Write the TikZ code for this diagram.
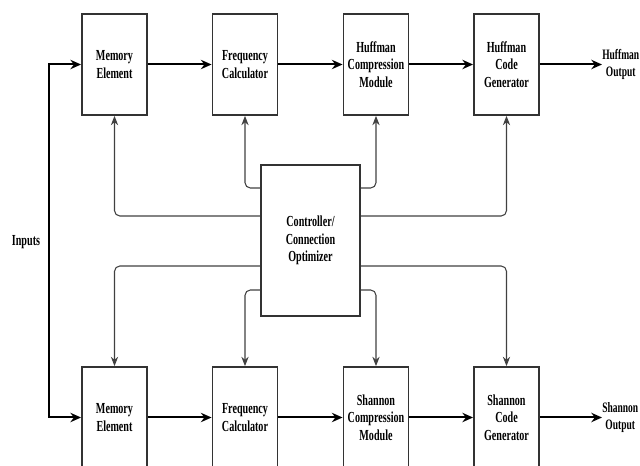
\documentclass[tikz,border=0pt]{standalone}
\usepackage{fontspec}
\setmainfont{Liberation Serif}[FakeStretch=0.66]
\usetikzlibrary{arrows.meta}
\begin{document}
\begin{tikzpicture}[x=0.75pt,y=-0.75pt,
  box/.style={draw=black!80,line width=1.4pt,minimum width=48.75pt,minimum height=75.75pt,inner sep=0pt,align=center,font=\bfseries\fontsize{11.5}{13}\selectfont},
  ctrlbox/.style={draw=black!80,line width=1.4pt,minimum width=74.25pt,minimum height=113.25pt,inner sep=0pt,align=center,font=\bfseries\fontsize{11.5}{13}\selectfont},
  lbl/.style={align=center,inner sep=0pt,font=\bfseries\fontsize{11.5}{13}\selectfont},
  outlbl/.style={align=center,inner sep=0pt,font=\bfseries\fontsize{10.8}{13}\selectfont},
  arr/.style={draw=black,line width=1.5pt,-{Stealth[length=8pt,width=7pt]}},
  ctl/.style={draw=black!75,line width=0.8pt,rounded corners=4pt,-{Stealth[length=7pt,width=5.5pt]}}]
\useasboundingbox (0,0) rectangle (640,466);
\clip (0,0) rectangle (640,466);
% top row
\node[box] (m1) at (114.5,64.5) {Memory\\Element};
\node[box] (f1) at (245,64.5) {Frequency\\Calculator};
\node[box] (c1) at (376,64.5) {Huffman\\Compression\\Module};
\node[box] (g1) at (506.5,64.5) {Huffman\\Code\\Generator};
\node[outlbl,anchor=west] (o1) at (602,64.5) {Huffman\\Output};
% bottom row
\node[box] (m2) at (114.5,417.5) {Memory\\Element};
\node[box] (f2) at (245,417.5) {Frequency\\Calculator};
\node[box] (c2) at (376,417.5) {Shannon\\Compression\\Module};
\node[box] (g2) at (506.5,417.5) {Shannon\\Code\\Generator};
\node[outlbl,anchor=west] (o2) at (602,417.5) {Shannon\\Output};
% controller
\node[ctrlbox] (ctrl) at (310.5,240.5) {Controller/\\Connection\\Optimizer};
% inputs
\node[lbl] (inl) at (26,242) {Inputs};
\coordinate (inp) at (49,242);
\draw[arr] (inp) |- (m1.west);
\draw[arr] (inp) |- (m2.west);
% main flow
\draw[arr] (m1) -- (f1);
\draw[arr] (f1) -- (c1);
\draw[arr] (c1) -- (g1);
\draw[arr] (g1.east) -- (o1.west);
\draw[arr] (m2) -- (f2);
\draw[arr] (f2) -- (c2);
\draw[arr] (c2) -- (g2);
\draw[arr] (g2.east) -- (o2.west);
% controller connections
\coordinate (ya) at (0,216);
\coordinate (yb) at (0,188);
\coordinate (yc) at (0,266);
\coordinate (yd) at (0,290);
\draw[ctl] (ctrl.west |- ya) -| (m1.south);
\draw[ctl] (ctrl.west |- yb) -| (f1.south);
\draw[ctl] (ctrl.east |- yb) -| (c1.south);
\draw[ctl] (ctrl.east |- ya) -| (g1.south);
\draw[ctl] (ctrl.west |- yc) -| (m2.north);
\draw[ctl] (ctrl.west |- yd) -| (f2.north);
\draw[ctl] (ctrl.east |- yd) -| (c2.north);
\draw[ctl] (ctrl.east |- yc) -| (g2.north);
\end{tikzpicture}
\end{document}
